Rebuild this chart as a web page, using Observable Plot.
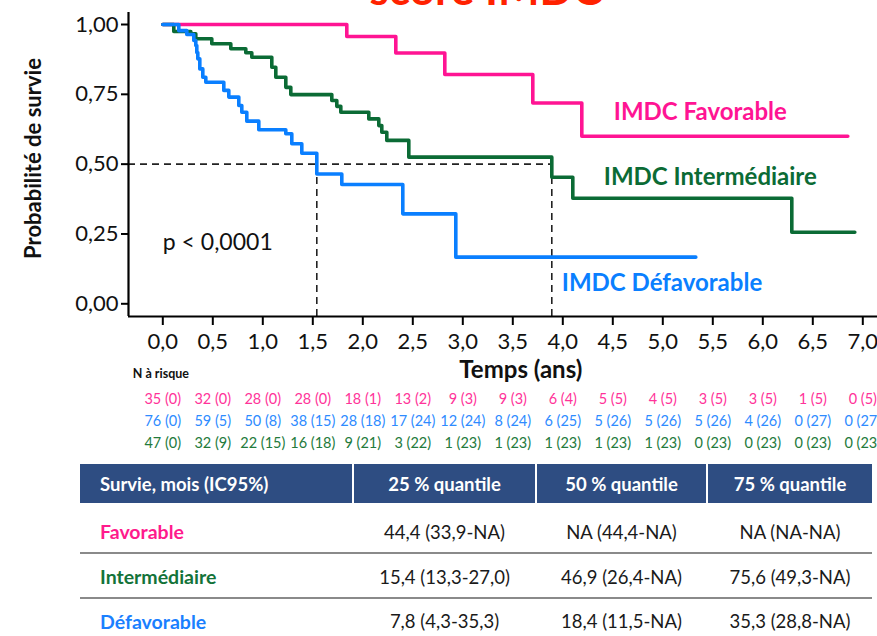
<!DOCTYPE html>
<html>
<head>
<meta charset="utf-8">
<script src="https://cdn.jsdelivr.net/npm/d3@7"></script>
<script src="https://cdn.jsdelivr.net/npm/@observablehq/plot@0.6"></script>
<style>
  body { margin: 0; background: #fff; font-family: Lato, "Noto Sans", sans-serif; }
  #wrap { position: relative; width: 877px; height: 636px; overflow: hidden; }
  #wrap svg { position: absolute; left: 0; top: 0; overflow: visible; }
  .cell { position: absolute; display: flex; align-items: center; white-space: nowrap; box-sizing: border-box; }
  .head { background: #2E4D82; color: #fff; font-weight: bold; font-size: 18.5px; }
  .val { font-size: 18.5px; color: #1a1a1a; justify-content: center; }
  .grp { font-size: 19.5px; font-weight: bold; }
  .sep { position: absolute; height: 1.5px; background: #8a8a8a; }
</style>
</head>
<body>
<div id="wrap"></div>
<script>
// Kaplan–Meier survival by IMDC risk group (time in years)
const groups = ["Favorable", "Intermédiaire", "Défavorable"];
const curveColors = ["#FF1493", "#0B6B35", "#0A7FFF"];

const favTime = [0, 1.84, 2.33, 2.82, 3.70, 4.19, 6.85];
const favSurv = [1, 0.957, 0.898, 0.821, 0.719, 0.600, 0.600];

const intTime = [0, 0.11, 0.28, 0.33, 0.49, 0.68, 0.83, 0.89, 1.09, 1.13, 1.23, 1.28, 1.69, 1.74, 1.78, 2.06, 2.16, 2.19, 2.24, 2.46, 3.89, 4.10, 6.29, 6.92];
const intSurv = [1, 0.975, 0.967, 0.949, 0.931, 0.913, 0.899, 0.883, 0.847, 0.811, 0.775, 0.749, 0.728, 0.707, 0.686, 0.662, 0.638, 0.614, 0.585, 0.525, 0.453, 0.378, 0.256, 0.256];

const defTime = [0, 0.16, 0.24, 0.31, 0.33, 0.34, 0.35, 0.37, 0.40, 0.43, 0.61, 0.66, 0.76, 0.79, 0.84, 0.96, 1.23, 1.29, 1.39, 1.54, 1.79, 2.40, 2.93, 5.33];
const defSurv = [1, 0.978, 0.964, 0.943, 0.925, 0.900, 0.877, 0.841, 0.811, 0.793, 0.764, 0.740, 0.710, 0.686, 0.654, 0.623, 0.609, 0.573, 0.539, 0.465, 0.427, 0.322, 0.167, 0.167];

// median survival times (years) for the dashed guides
const medianTimes = [1.54, 3.89];

// axis ticks
const xTicks = d3.range(0, 7.01, 0.5);
const yTicks = [0, 0.25, 0.5, 0.75, 1];

// curve labels
const curveLabels = ["IMDC Favorable", "IMDC Intermédiaire", "IMDC Défavorable"];
const labelX = [4.51, 4.41, 3.99];
const labelY = [0.685, 0.452, 0.073];

// number at risk (number of events) at each half-year
const riskTimes = d3.range(0, 7.01, 0.5);
const riskFav = ["35 (0)", "32 (0)", "28 (0)", "28 (0)", "18 (1)", "13 (2)", "9 (3)", "9 (3)", "6 (4)", "5 (5)", "4 (5)", "3 (5)", "3 (5)", "1 (5)", "0 (5)"];
const riskDef = ["76 (0)", "59 (5)", "50 (8)", "38 (15)", "28 (18)", "17 (24)", "12 (24)", "8 (24)", "6 (25)", "5 (26)", "5 (26)", "5 (26)", "4 (26)", "0 (27)", "0 (27)"];
const riskInt = ["47 (0)", "32 (9)", "22 (15)", "16 (18)", "9 (21)", "3 (22)", "1 (23)", "1 (23)", "1 (23)", "1 (23)", "1 (23)", "0 (23)", "0 (23)", "0 (23)", "0 (23)"];
const riskRows = [riskFav, riskDef, riskInt];
const riskColors = ["#FF3399", "#2E8BFF", "#237A3B"];

// survival quantiles table (months, 95% CI)
const tableHeader = ["Survie, mois (IC95%)", "25 % quantile", "50 % quantile", "75 % quantile"];
const q25 = ["44,4 (33,9-NA)", "15,4 (13,3-27,0)", "7,8 (4,3-35,3)"];
const q50 = ["NA (44,4-NA)", "46,9 (26,4-NA)", "18,4 (11,5-NA)"];
const q75 = ["NA (NA-NA)", "75,6 (49,3-NA)", "35,3 (28,8-NA)"];
const groupColors = ["#FF1A8C", "#137339", "#1A80FF"];

const comma = (v, n) => v.toFixed(n).replace(".", ",");

const kmRows = [
  ...favTime.map((t, i) => ({t, s: favSurv[i], group: groups[0]})),
  ...intTime.map((t, i) => ({t, s: intSurv[i], group: groups[1]})),
  ...defTime.map((t, i) => ({t, s: defSurv[i], group: groups[2]}))
];

const xMin = -0.343, xMax = 7.147, yMin = -0.0455, yMax = 1.043;
const font = "Lato, 'Noto Sans', sans-serif";

const chart = Plot.plot({
  width: 877,
  height: 460,
  marginLeft: 128,
  marginRight: 0,
  marginTop: 12,
  marginBottom: 144,
  style: {fontFamily: font, background: "white", overflow: "visible"},
  x: {domain: [xMin, xMax]},
  y: {domain: [yMin, yMax]},
  color: {domain: groups, range: curveColors},
  marks: [
    // median guides
    Plot.ruleY([0.5], {x1: xMin, x2: medianTimes[1], stroke: "#222", strokeWidth: 1.6, strokeDasharray: "7,5"}),
    Plot.ruleX(medianTimes, {y1: yMin, y2: 0.5, stroke: "#222", strokeWidth: 1.6, strokeDasharray: "7,5"}),
    // survival curves
    Plot.line(kmRows, {x: "t", y: "s", z: "group", stroke: "group", curve: "step-after", strokeWidth: 3.6}),
    // axes
    Plot.axisY(yTicks, {tickSize: 7, tickPadding: 3, fontSize: 22, tickFormat: d => comma(d, 2), label: null, strokeWidth: 2, fill: "#111"}),
    Plot.axisX(xTicks, {tickSize: 9, tickPadding: 8, fontSize: 22, tickFormat: d => comma(d, 1), label: null, strokeWidth: 2, fill: "#111"}),
    Plot.ruleX([xMin], {stroke: "#000", strokeWidth: 2.2}),
    Plot.ruleY([yMin], {stroke: "#000", strokeWidth: 2.2}),
    // title
    Plot.text(["score IMDC"], {x: 3.23, frameAnchor: "top", dy: -8, lineAnchor: "bottom", fill: "#FF2200", fontSize: 44, fontWeight: "bold"}),
    // axis titles
    Plot.text(["Probabilité de survie"], {frameAnchor: "left", textAnchor: "middle", dx: -95, dy: -6, rotate: -90, fontSize: 22, fontWeight: "bold", fill: "#111"}),
    Plot.text(["Temps (ans)"], {x: 3.58, frameAnchor: "bottom", dy: 61, fontSize: 24, fontWeight: "bold", fill: "#111"}),
    // p-value
    Plot.text(["p < 0,0001"], {x: 0.0, y: 0.22, textAnchor: "start", fontSize: 23, fill: "#111"}),
    // curve labels
    ...curveLabels.map((lab, i) => Plot.text([lab], {x: labelX[i], y: labelY[i], textAnchor: "start", fill: curveColors[i], fontSize: 24, fontWeight: "bold"})),
    // number at risk
    Plot.text(["N à risque"], {x: -0.30, frameAnchor: "bottom", dy: 61, textAnchor: "start", fontSize: 12.5, fontWeight: "bold", fill: "#111"}),
    ...riskRows.map((row, i) => Plot.text(row, {x: (d, j) => riskTimes[j], text: d => d, frameAnchor: "bottom", dy: 87 + 22 * i, fill: riskColors[i], fontSize: 14.5}))
  ]
});

const wrap = d3.select("#wrap");
wrap.node().appendChild(chart);

// quantile table
const colX = [80, 354, 537, 708];
const colW = [272, 181, 169, 164];
const headTop = 464, headH = 39;
tableHeader.forEach((h, i) => {
  wrap.append("div").attr("class", "cell head")
    .style("left", colX[i] + "px").style("top", headTop + "px")
    .style("width", colW[i] + "px").style("height", headH + "px")
    .style("justify-content", i === 0 ? "flex-start" : "center")
    .style("padding-left", i === 0 ? "20px" : "0")
    .text(h);
});

const rowCenter = [531.5, 576.5, 621];
const rowH = 30;
groups.forEach((g, r) => {
  wrap.append("div").attr("class", "cell grp")
    .style("left", "100px").style("top", (rowCenter[r] - rowH / 2) + "px")
    .style("height", rowH + "px").style("color", groupColors[r])
    .text(g);
  [q25[r], q50[r], q75[r]].forEach((v, c) => {
    wrap.append("div").attr("class", "cell val")
      .style("left", colX[c + 1] + "px").style("top", (rowCenter[r] - rowH / 2) + "px")
      .style("width", colW[c + 1] + "px").style("height", rowH + "px")
      .text(v);
  });
});

[552, 597].forEach(y => {
  wrap.append("div").attr("class", "sep")
    .style("left", "80px").style("top", y + "px").style("width", "792px");
});
</script>
</body>
</html>
